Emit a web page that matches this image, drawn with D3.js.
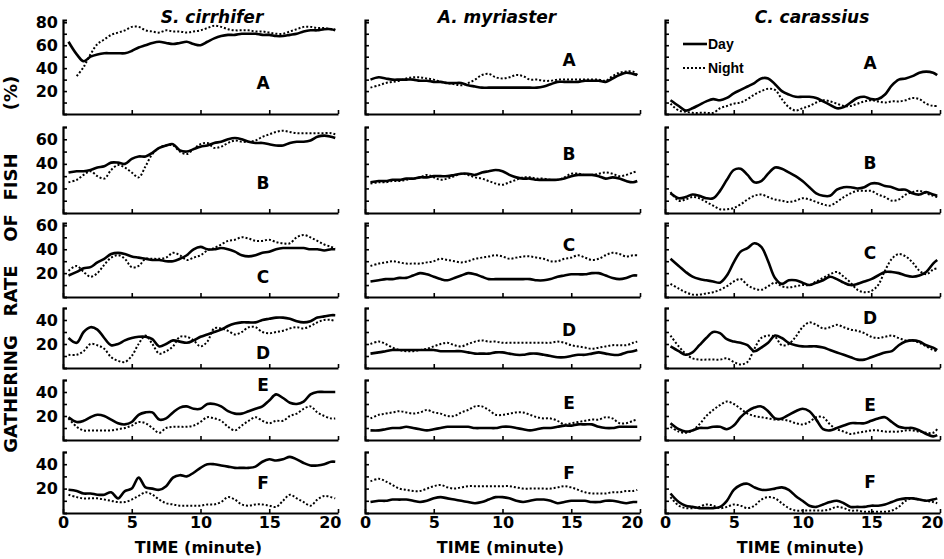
<html>
<head>
<script src="https://cdn.jsdelivr.net/npm/d3@7"></script>
<style>
  body { margin: 0; background: #fff; }
  svg text { font-family: "DejaVu Sans", sans-serif; font-weight: bold; fill: #000; }
</style>
</head>
<body>
<div id="chart"></div>
<script>
// time grid (minutes) shared by every series
const minutes = [0.4,1,1.5,2,2.5,3,3.5,4,4.5,5,5.5,6,6.5,7,7.5,8,8.5,9,9.5,10,10.5,11,11.5,12,12.5,13,13.5,14,14.5,15,15.5,16,16.5,17,17.5,18,18.5,19,19.5,19.8];

const species = ["S. cirrhifer", "A. myriaster", "C. carassius"];
const panelLetters = ["A", "B", "C", "D", "E", "F"];
const xTicks = [0, 5, 10, 15, 20];

// gathering rate (%), one row per panel A..F
const sCirrhiferDay = [
  [63,52,46,50,52,53,53,53,53,55, 58,60,62,63,62,61,62,63,61,60, 63,66,68,69,69,70,70,70,69,69, 68,68,69,70,72,73,73,74,74,73],
  [33,34,34,35,37,38,41,41,40,44, 46,46,49,53,55,56,51,50,52,54, 55,57,58,60,61,60,58,57,57,56, 55,55,57,58,58,59,62,63,62,61],
  [18,21,24,25,29,32,36,37,36,34, 33,32,31,31,30,30,32,35,40,42, 40,40,41,40,38,35,34,35,37,38, 40,41,41,41,41,40,40,39,40,40],
  [25,21,30,34,32,25,19,20,23,25, 26,26,24,18,20,23,22,21,23,26, 28,30,32,35,37,38,38,38,40,41, 42,42,41,39,38,39,42,43,44,44],
  [19,15,16,19,21,20,17,14,13,15, 21,23,23,17,18,23,27,28,26,26, 30,30,28,24,22,22,24,26,28,33, 38,35,31,30,32,38,40,40,40,40],
  [19,18,16,16,15,15,17,12,18,20, 29,21,20,19,22,29,31,30,33,37, 40,40,39,38,37,37,37,38,42,44, 43,44,46,44,41,39,39,40,42,42]
];
const sCirrhiferNight = [
  [null,33,41,52,61,65,69,71,73,76, 76,73,72,71,73,72,72,71,72,73, 75,77,76,74,73,73,73,72,72,71, 70,70,72,74,76,76,75,75,74,74],
  [25,27,31,34,30,28,35,39,37,33, 29,38,48,53,55,55,50,48,52,56, 57,53,54,57,59,58,58,59,62,64, 66,67,66,65,65,65,65,65,65,64],
  [22,26,21,17,20,27,33,35,32,25, 26,32,32,32,33,37,35,31,33,35, 39,41,44,47,48,50,49,47,47,48, 46,45,45,50,52,50,47,44,42,41],
  [11,11,14,20,19,16,9,6,5,10, 20,27,20,12,14,18,26,26,23,18, 22,33,33,31,28,30,34,34,30,29, 30,31,33,34,33,35,38,40,40,39],
  [18,11,8,8,8,8,8,9,10,12, 15,14,10,6,10,11,11,11,12,15, 19,18,16,11,8,12,16,19,16,14, 16,16,20,22,26,28,23,20,18,18],
  [15,13,12,12,12,11,10,9,9,11, 14,17,15,11,8,7,6,6,6,6, 7,7,9,13,11,7,6,7,7,6, 5,10,15,12,9,6,11,14,13,12]
];
const aMyriasterDay = [
  [30,32,31,30,30,30,30,29,29,28, 28,27,27,27,25,24,23,23,23,23, 23,23,23,23,23,24,26,28,28,28, 28,29,29,29,28,31,34,36,35,34],
  [25,26,26,27,27,28,28,29,29,30, 30,30,31,32,32,31,33,34,35,34, 31,29,28,28,27,27,27,27,28,30, 31,31,31,30,28,29,28,26,25,26],
  [13,14,15,15,16,16,18,20,19,17, 15,14,16,18,20,19,17,15,15,15, 15,15,15,15,14,14,15,17,18,19, 19,19,20,20,18,16,15,16,18,18],
  [12,13,14,15,15,15,15,15,15,15, 14,14,14,14,13,12,12,12,13,13, 12,11,11,12,12,11,10,9,9,10, 11,11,12,13,12,11,11,13,14,15],
  [8,8,9,10,10,11,10,9,8,9, 10,11,11,11,11,10,10,10,10,11, 11,10,9,8,9,10,10,11,12,12, 13,13,13,11,10,10,11,11,11,11],
  [9,10,10,11,11,11,10,9,10,12, 13,12,11,10,9,8,9,11,13,13, 12,10,9,10,11,11,10,8,9,10, 10,10,9,9,10,10,9,8,9,9]
];
const aMyriasterNight = [
  [23,25,27,28,29,31,32,32,31,30, 28,27,26,25,27,30,34,35,32,31, 32,34,33,30,30,29,29,30,30,30, 30,30,30,30,29,33,36,37,37,34],
  [24,25,25,26,26,27,28,29,31,29, 27,28,30,32,31,29,28,26,24,23, 25,27,29,29,28,28,27,27,29,32, 32,31,31,32,33,32,30,31,33,34],
  [26,28,29,30,29,28,28,28,29,30, 32,31,30,29,30,32,33,34,35,34, 32,33,34,34,33,32,30,30,32,33, 35,33,31,32,35,37,36,34,35,35],
  [20,22,20,17,15,14,14,15,16,18, 20,21,19,18,20,22,23,22,22,21, 21,21,21,21,21,21,21,22,21,19, 18,17,16,17,18,19,19,19,21,22],
  [18,21,22,23,24,23,22,23,25,23, 22,20,20,23,25,28,28,25,21,21, 22,23,23,21,19,18,18,16,13,14, 15,16,17,17,19,18,14,14,16,17],
  [26,28,26,23,20,19,18,18,20,22, 23,21,20,21,22,22,22,22,22,22, 22,21,20,20,20,20,20,21,22,21, 19,17,16,16,16,17,17,18,18,19]
];
const cCarassiusDay = [
  [12,7,3,5,8,11,13,12,14,18, 21,24,27,31,31,26,20,17,15,15, 15,14,11,8,5,6,10,14,15,13, 13,17,25,30,31,33,36,37,36,34],
  [16,12,13,15,14,12,12,18,27,35, 36,31,25,26,32,37,36,33,30,26, 21,16,14,14,19,21,21,20,21,24, 24,22,21,19,19,16,15,17,15,14],
  [32,26,21,17,15,14,13,12,18,29, 38,41,45,42,30,16,11,14,14,12, 10,12,14,17,15,12,10,11,13,15, 18,21,21,20,18,17,18,21,28,31],
  [18,14,11,13,19,25,30,29,24,22, 21,19,14,17,21,27,25,21,19,18, 18,18,17,15,13,11,9,7,7,9, 11,13,14,19,22,23,22,19,17,15],
  [14,9,7,8,10,10,11,11,9,12, 19,24,27,28,24,18,18,21,24,26, 24,17,9,8,10,12,14,14,14,16, 18,19,15,11,10,10,8,5,3,4],
  [16,9,6,5,4,4,4,5,10,19, 23,24,21,19,19,20,21,19,14,10, 6,5,7,9,10,8,5,5,5,6, 6,7,9,11,12,12,11,10,11,12]
];
const cCarassiusNight = [
  [9,3,2,1,1,1,1,5,7,9, 10,13,17,20,22,21,13,6,3,5, 7,10,12,11,9,7,7,9,11,12, 11,10,11,11,12,14,13,9,7,7],
  [17,10,11,13,12,9,6,3,3,4, 7,11,14,15,13,11,10,9,10,12, 11,9,7,6,9,13,16,18,18,18, 15,13,10,11,15,17,18,16,14,13],
  [11,7,4,2,2,3,4,6,9,13, 15,10,7,6,9,12,9,8,9,10, 10,13,16,19,21,17,12,6,4,5, 10,22,32,36,34,29,22,19,23,24],
  [27,18,12,8,7,7,7,7,8,5, 3,5,16,25,27,26,19,20,26,34, 38,36,33,34,36,34,32,31,29,26, 25,26,27,25,23,23,21,18,15,14],
  [11,7,6,8,13,20,25,29,32,30, 26,22,20,19,18,17,17,16,14,13, 15,19,19,13,9,7,5,6,7,8, 8,7,7,7,8,8,7,6,6,9],
  [13,6,4,4,5,7,6,4,5,7, 6,4,6,11,13,12,8,4,2,2, 2,2,2,3,5,4,2,2,1,1, 1,1,2,5,10,12,11,10,9,8]
];

const dayData = [sCirrhiferDay, aMyriasterDay, cCarassiusDay];
const nightData = [sCirrhiferNight, aMyriasterNight, cCarassiusNight];

// ---------------- layout ----------------
const width = 944, height = 559;
const colRange = [[63, 338], [365, 640], [665, 940]];            // x pixel range of 0..20 min
const rowRange = [[114, 20], [213, 127], [297, 223], [368, 308], [440, 380], [513, 452]];
const rowTop = [82, 70, 62, 50, 50, 50];                          // value at top of each y axis
const titleX = [212, 497, 812];
const letterX = [263, 569, 870];
const letterY = [[83, 183, 277, 353, 385, 483], [60, 154, 245, 330, 403, 473], [63, 163, 253, 318, 405, 482]];

const svg = d3.select("#chart").append("svg")
    .attr("width", width)
    .attr("height", height)

svg.append("rect").attr("width", width).attr("height", height).attr("fill", "#fff")

species.forEach((name, c) => {
    const x = d3.scaleLinear().domain([0, 20]).range(colRange[c]);

    svg.append("text")
        .attr("x", titleX[c]).attr("y", 23)
        .attr("text-anchor", "middle")
        .style("font-style", "italic")
        .style("font-size", "17px")
        .text(name)

    svg.append("text")
        .attr("x", (colRange[c][0] + colRange[c][1]) / 2 - 2).attr("y", 553)
        .attr("text-anchor", "middle")
        .style("font-size", "16px")
        .text("TIME (minute)")

    panelLetters.forEach((letter, r) => {
        const y = d3.scaleLinear().domain([0, rowTop[r]]).range(rowRange[r]);
        const panel = svg.append("g")

        // x axis, ticks pointing up into the panel
        const xAxis = d3.axisBottom(x)
            .tickValues(xTicks)
            .tickSizeInner(-4)
            .tickSizeOuter(0)
            .tickPadding(4)
            .tickFormat(d => r === panelLetters.length - 1 ? d : "")
        const gx = panel.append("g")
            .attr("transform", `translate(0, ${rowRange[r][0]})`)
            .call(xAxis)
        // the last label sits just left of the axis end, as in the original
        gx.selectAll(".tick text").filter(d => d === 20)
            .attr("text-anchor", "end").attr("dx", "3")

        // y axis, ticks every 10 pointing right, labels only in first column
        const yAxis = d3.axisLeft(y)
            .tickValues(d3.range(10, rowTop[r] + 1, 10))
            .tickSizeInner(-4)
            .tickSizeOuter(-4)
            .tickPadding(5)
            .tickFormat(d => (c === 0 && d % 20 === 0) ? d : "")
        const gy = panel.append("g")
            .attr("transform", `translate(${colRange[c][0]}, 0)`)
            .call(yAxis)

        ;[gx, gy].forEach(g => {
            g.attr("font-family", null).attr("font-size", null)
            g.select(".domain").attr("stroke", "#000").attr("stroke-width", 2.2)
            g.selectAll(".tick line").attr("stroke", "#000").attr("stroke-width", 1.6)
            g.selectAll(".tick text").style("font-size", "16px")
        })

        const line = d3.line()
            .defined(d => d[1] != null)
            .x(d => x(d[0]))
            .y(d => y(d[1]))
            .curve(d3.curveCatmullRom.alpha(0.5))

        panel.append("path")
            .datum(minutes.map((t, i) => [t, nightData[c][r][i]]))
            .attr("d", line)
            .attr("fill", "none")
            .attr("stroke", "#000")
            .attr("stroke-width", 2)
            .attr("stroke-dasharray", "2,2")

        panel.append("path")
            .datum(minutes.map((t, i) => [t, dayData[c][r][i]]))
            .attr("d", line)
            .attr("fill", "none")
            .attr("stroke", "#000")
            .attr("stroke-width", 2.6)
            .attr("stroke-linejoin", "round")

        panel.append("text")
            .attr("x", letterX[c]).attr("y", letterY[c][r])
            .attr("dy", "0.36em")
            .attr("text-anchor", "middle")
            .style("font-size", "17px")
            .text(letter)
    })
})

// legend inside C. carassius panel A
const legend = svg.append("g").attr("transform", "translate(683, 0)")
legend.append("line").attr("x1", 0).attr("x2", 24).attr("y1", 44).attr("y2", 44)
    .attr("stroke", "#000").attr("stroke-width", 2.6)
legend.append("line").attr("x1", 0).attr("x2", 24).attr("y1", 68).attr("y2", 68)
    .attr("stroke", "#000").attr("stroke-width", 2).attr("stroke-dasharray", "2,2")
legend.append("text").attr("x", 25).attr("y", 49)
    .style("font-family", "'Liberation Sans', sans-serif").style("font-size", "14px").text("Day")
legend.append("text").attr("x", 25).attr("y", 73)
    .style("font-family", "'Liberation Sans', sans-serif").style("font-size", "14px").text("Night")

// y axis title, words spread down the left margin
const yTitle = [["(%)", 93], ["FISH", 177], ["OF", 228], ["RATE", 291], ["GATHERING", 394]];
yTitle.forEach(([word, cy]) => {
    svg.append("text")
        .attr("transform", `translate(11, ${cy}) rotate(-90)`)
        .attr("dy", "0.36em")
        .attr("text-anchor", "middle")
        .style("font-size", "18px")
        .text(word)
})
</script>
</body>
</html>
